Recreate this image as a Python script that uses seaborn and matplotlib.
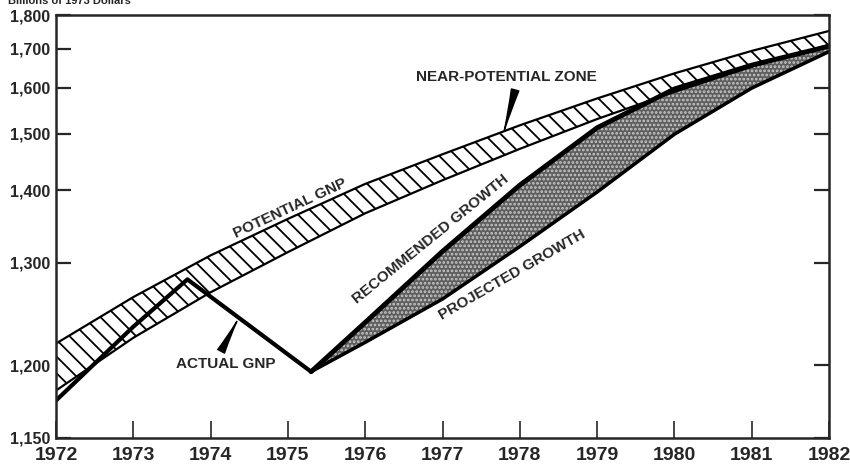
import numpy as np
import matplotlib
matplotlib.use("Agg")
import matplotlib.pyplot as plt
import seaborn as sns

# GNP, billions of 1973 dollars
years = [1972, 1973, 1974, 1975, 1976, 1977, 1978, 1979, 1980, 1981, 1982]
potential_upper = [1218, 1262, 1309, 1357, 1410, 1461, 1517, 1575, 1635, 1694, 1751]
potential_lower = [1181, 1223, 1267, 1313, 1365, 1416, 1471, 1530, 1590, 1652, 1711]

actual_years = [1972, 1973, 1973.7, 1975.3]
actual_gnp = [1174, 1233, 1281, 1195]

growth_years = [1975.3, 1976, 1977, 1978, 1979, 1980, 1981, 1982]
recommended = [1195, 1237, 1314, 1408, 1512, 1597, 1656, 1707]
projected = [1195, 1219, 1260, 1320, 1397, 1499, 1599, 1692]

y_ticks = [1150, 1200, 1300, 1400, 1500, 1600, 1700, 1800]
x_ticks = list(range(1972, 1983))

sns.set_style("ticks")
plt.rcParams["font.family"] = ["Liberation Sans", "DejaVu Sans"]
plt.rcParams["hatch.linewidth"] = 1.3

fig = plt.figure(figsize=(8.5, 4.68), dpi=100)
ax = fig.add_axes([56 / 850, 1 - 438 / 468, (829 - 56) / 850, (438 - 15) / 468])

# ratio scale measured from 1,000
ax.set_yscale("function", functions=(lambda v: np.log(np.clip(v - 1000, 1e-3, None)),
                                     lambda t: np.exp(t) + 1000))

# near-potential zone
ax.fill_between(years, potential_lower, potential_upper, facecolor="white",
                edgecolor="black", hatch="\\\\", linewidth=0)
sns.lineplot(x=years, y=potential_upper, ax=ax, color="black", lw=1.6)
sns.lineplot(x=years, y=potential_lower, ax=ax, color="black", lw=1.6)

# recommended vs projected growth
ax.fill_between(growth_years, projected, recommended, facecolor="#5e5e5e",
                edgecolor="#c8c8c8", hatch="....", linewidth=0)
sns.lineplot(x=growth_years, y=recommended, ax=ax, color="black", lw=3.5)
sns.lineplot(x=growth_years, y=projected, ax=ax, color="black", lw=2.5)

sns.lineplot(x=actual_years, y=actual_gnp, ax=ax, color="black", lw=3)

ax.set_xlim(1972, 1982)
ax.set_ylim(1150, 1800)
ax.set_xticks(x_ticks)
ax.set_xticklabels([str(y) for y in x_ticks], fontsize=14, fontweight="bold")
ax.set_yticks(y_ticks)
ax.set_yticklabels([f"{v:,}" for v in y_ticks], fontsize=11.5, fontweight="bold")
ax.minorticks_off()
ax.tick_params(axis="y", direction="in", length=11, width=1.6, pad=4,
               left=True, right=True)
ax.tick_params(axis="x", direction="in", length=12.5, width=1.2, pad=6.5)
for s in ax.spines.values():
    s.set_linewidth(1.8)
    s.set_visible(True)
ax.set_xlabel("")
ax.set_ylabel("")

bold = dict(fontsize=11, fontweight="bold", ha="center", va="center")
ax.text(1975.03, 1372, "POTENTIAL GNP", rotation=25, **bold)
ax.text(1976.85, 1330, "RECOMMENDED GROWTH", rotation=39, **bold)
ax.text(1977.9, 1286, "PROJECTED GROWTH", rotation=30, **bold)

wedge = "wedge,tail_width=0.5,shrink_factor=0.4"
ax.annotate("NEAR-POTENTIAL ZONE", xy=(1977.8, 1507), xytext=(1977.82, 1626),
            fontsize=11, fontweight="bold", ha="center", va="center",
            arrowprops=dict(arrowstyle=wedge, color="black", relpos=(0.56, 0),
                            shrinkA=2, shrinkB=0))
ax.annotate("ACTUAL GNP", xy=(1974.34, 1238), xytext=(1974.2, 1201),
            fontsize=11, fontweight="bold", ha="center", va="center",
            arrowprops=dict(arrowstyle=wedge, color="black", relpos=(0.42, 1),
                            shrinkA=2, shrinkB=0))

fig.text(0.009, 1 - 4 / 468, "Billions of 1973 Dollars", fontsize=8,
         fontweight="bold", ha="left", va="baseline")

fig.savefig("out.png", dpi=100)
